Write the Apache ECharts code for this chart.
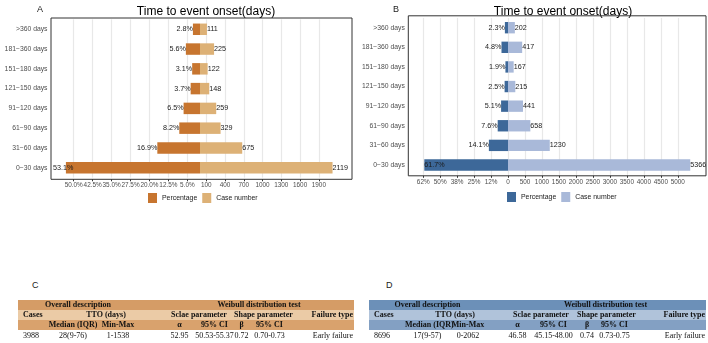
<!DOCTYPE html>
<html>
<head>
<meta charset="utf-8">
<script src="https://cdn.jsdelivr.net/npm/echarts@6/dist/echarts.min.js"></script>
<style>
html, body { margin: 0; padding: 0; background: #fff; }
#wrap { position: relative; width: 708px; height: 343px; overflow: hidden; }
.chart { position: absolute; top: 0; width: 354px; height: 215px; }
.tag { position: absolute; font: 9px 'Liberation Sans', sans-serif; color: #1a1a1a; }
table.tto { position: absolute; top: 300px; border-collapse: collapse; table-layout: fixed;
  font-family: 'Liberation Serif', serif; font-size: 8px; color: #111; will-change: transform; }
table.tto td { padding: 0; white-space: nowrap; text-align: center; overflow: visible; height: 10px; line-height: 10px; }
table.tto tr.head td { font-weight: bold; }
table.tto td.first { text-align: left; padding-left: 5px; }
table.tto td.last { text-align: right; padding-right: 1px; }
</style>
</head>
<body>
<div id="wrap">
  <div id="chartA" class="chart" style="left:0"></div>
  <div id="chartB" class="chart" style="left:354px"></div>
  <div class="tag" style="left:32px;top:280px">C</div>
  <div class="tag" style="left:386px;top:280px">D</div>
  <table id="tableC" class="tto" style="left:18px;width:336px"></table>
  <table id="tableD" class="tto" style="left:369px;width:337px"></table>
</div>
<script>
// categories, top to bottom
var categories = ['>360 days', '181−360 days', '151−180 days', '121−150 days',
                  '91−120 days', '61−90 days', '31−60 days', '0−30 days'];

// panel A
var pctA = [2.8, 5.6, 3.1, 3.7, 6.5, 8.2, 16.9, 53.1];
var casesA = [111, 225, 122, 148, 259, 329, 675, 2119];
var pctTicksA = [5, 12.5, 20, 27.5, 35, 42.5, 50];
var caseTicksA = [100, 400, 700, 1000, 1300, 1600, 1900];

// panel B
var pctB = [2.3, 4.8, 1.9, 2.5, 5.1, 7.6, 14.1, 61.7];
var casesB = [202, 417, 167, 215, 441, 658, 1230, 5366];
var pctTicksB = [0, 12.5, 25, 37.5, 50, 62.5];
var pctLabelsB = ['0', '12%', '25%', '38%', '50%', '62%'];
var caseTicksB = [500, 1000, 1500, 2000, 2500, 3000, 3500, 4000, 4500, 5000];

// tables C and D
var headRow1 = [['Overall description', 3], ['', 1], ['Weibull distribution test', 5]];
var headRow2 = [['Cases', 1], ['TTO (days)', 3], ['Sclae parameter', 2], ['Shape parameter', 2], ['Failure type', 1]];
var headRow3 = ['', 'Median (IQR)', 'Min-Max', '', 'α', '95% CI', 'β', '95% CI', ''];
var valuesC = ['3988', '28(9-76)', '1-1538', '', '52.95', '50.53-55.37', '0.72', '0.70-0.73', 'Early failure'];
var valuesD = ['8696', '17(9-57)', '0-2062', '', '46.58', '45.15-48.00', '0.74', '0.73-0.75', 'Early failure'];

var axisGrey = '#4d4d4d';
var frameCol = '#333333';

function butterfly(el, c) {
    var chart = echarts.init(document.getElementById(el), null, { renderer: 'canvas' });
    var maxIdx = c.pct.indexOf(Math.max.apply(null, c.pct));
    var pctData = c.pct.map(function(v, i) {
        if (i !== maxIdx) return v;
        return { value: v, label: { position: 'insideLeft', distance: 0, offset: [c.maxShift, 0] } };
    });
    var xBase = {
        type: 'value', min: 0, offset: c.axisOffset,
        axisLine: { show: false },
        splitLine: { show: true, lineStyle: { color: '#e8e8e8', width: 1.2 } }
    };
    var option = {
        animation: false,
        textStyle: { fontFamily: 'Liberation Sans' },
        title: [
            { text: 'Time to event onset(days)', left: c.titleX, top: 1, textAlign: 'center',
              textStyle: { fontSize: 12, fontWeight: 'normal', color: '#000' } },
            { text: c.tag, left: c.tagX, top: 0,
              textStyle: { fontSize: 9, fontWeight: 'normal', color: '#1a1a1a' } }
        ],
        grid: [
            { left: c.frame[0], top: c.gridTop, width: c.mid - c.frame[0], height: c.gridH, outerBoundsMode: 'none' },
            { left: c.mid, top: c.gridTop, width: c.frame[2] - c.mid, height: c.gridH, outerBoundsMode: 'none' }
        ],
        xAxis: [
            echarts.util.merge({
                gridIndex: 0, inverse: true, max: c.pctMax,
                axisTick: { show: true, length: 2, lineStyle: { color: frameCol }, customValues: c.pctTicks },
                axisLabel: { customValues: c.pctTicks, formatter: c.pctFmt, fontSize: 6.4, color: axisGrey, margin: 3 }
            }, xBase),
            echarts.util.merge({
                gridIndex: 1, max: c.caseMax,
                axisTick: { show: true, length: 2, lineStyle: { color: frameCol }, customValues: c.caseTicks },
                axisLabel: { customValues: c.caseTicks, fontSize: 6.4, color: axisGrey, margin: 3,
                             formatter: function(v) { return String(v); } }
            }, xBase)
        ],
        yAxis: [
            { gridIndex: 0, type: 'category', data: categories, inverse: true,
              axisLine: { show: false },
              axisTick: { show: true, alignWithLabel: true, length: 2.5, lineStyle: { color: frameCol } },
              axisLabel: { fontSize: 6.8, color: axisGrey, margin: 3.5 } },
            { gridIndex: 1, type: 'category', data: categories, inverse: true, show: false }
        ],
        legend: {
            left: c.legendX, top: c.legendY, padding: 0, icon: 'rect',
            itemWidth: 9, itemHeight: 10, itemGap: 5,
            textStyle: { fontSize: 6.9, color: '#1a1a1a' },
            data: ['Percentage', 'Case number']
        },
        graphic: [{
            type: 'rect', z: 100, silent: true,
            shape: { x: c.frame[0], y: c.frame[1], width: c.frame[2] - c.frame[0], height: c.frame[3] - c.frame[1] },
            style: { fill: null, stroke: frameCol, lineWidth: 1 }
        }],
        series: [
            { name: 'Percentage', type: 'bar', xAxisIndex: 0, yAxisIndex: 0, data: pctData,
              barWidth: '58%', itemStyle: { color: c.dark },
              label: { show: true, position: 'left', distance: 0, fontSize: 7.2, color: '#1a1a1a',
                       formatter: function(p) { return p.value + '%'; } } },
            { name: 'Case number', type: 'bar', xAxisIndex: 1, yAxisIndex: 1, data: c.cases,
              barWidth: '58%', itemStyle: { color: c.light },
              label: { show: true, position: 'right', distance: 0, fontSize: 7.2, color: '#1a1a1a' } }
        ]
    };
    chart.setOption(option);
}

butterfly('chartA', {
    pct: pctA, cases: casesA, dark: '#C7752F', light: '#DDB176',
    frame: [51, 18, 352, 179.3], mid: 200, gridTop: 19.4, gridH: 158.2, axisOffset: 1.7,
    pctMax: 59, caseMax: 2430, maxShift: -13,
    pctTicks: pctTicksA, caseTicks: caseTicksA,
    pctFmt: function(v) { return v.toFixed(1) + '%'; },
    titleX: 201, tag: 'A', tagX: 32, legendX: 148, legendY: 193
});

butterfly('chartB', {
    pct: pctB, cases: casesB, dark: '#3D6899', light: '#A9B9D9',
    frame: [54.3, 15.8, 352, 175.8], mid: 154, gridTop: 17.9, gridH: 156.9, axisOffset: 1,
    pctMax: 73.5, caseMax: 5830, maxShift: 0,
    pctTicks: pctTicksB, caseTicks: caseTicksB,
    pctFmt: function(v) { return pctLabelsB[pctTicksB.indexOf(v)]; },
    titleX: 204, tag: 'B', tagX: 34, legendX: 153, legendY: 192
});

function fillTable(id, widths, colours, values) {
    var t = document.getElementById(id);
    var html = '<colgroup>' + widths.map(function(w) { return '<col style="width:' + w + 'px">'; }).join('') + '</colgroup>';
    function spanRow(cells, bg) {
        var s = '<tr class="head" style="background:' + bg + '">';
        cells.forEach(function(cell, i) {
            var cls = i === 0 && cell[0] === 'Cases' ? ' class="first"' : (i === cells.length - 1 && cell[1] === 1 ? ' class="last"' : '');
            s += '<td colspan="' + cell[1] + '"' + cls + '>' + cell[0] + '</td>';
        });
        return s + '</tr>';
    }
    function plainRow(cells, bg, head) {
        var s = '<tr' + (head ? ' class="head"' : '') + ' style="background:' + bg + '">';
        cells.forEach(function(txt, i) {
            var cls = i === 0 ? ' class="first"' : (i === cells.length - 1 ? ' class="last"' : '');
            s += '<td' + cls + '>' + txt + '</td>';
        });
        return s + '</tr>';
    }
    html += spanRow(headRow1, colours[0]);
    html += spanRow(headRow2, colours[1]);
    html += plainRow(headRow3, colours[2], true);
    html += plainRow(values, colours[3], false).replace('<tr', '<tr style="height:11px"');
    t.innerHTML = html;
}

fillTable('tableC', [30, 50, 40, 26, 31, 39, 15, 41, 64],
          ['#D59C66', '#EBCBA6', '#D9A26D', '#F2E0CB'], valuesC);
fillTable('tableD', [36, 45, 36, 19, 25, 47, 20, 35, 74],
          ['#6C90B8', '#B0C3DA', '#83A0C3', '#D6E0EB'], valuesD);
</script>
</body>
</html>
